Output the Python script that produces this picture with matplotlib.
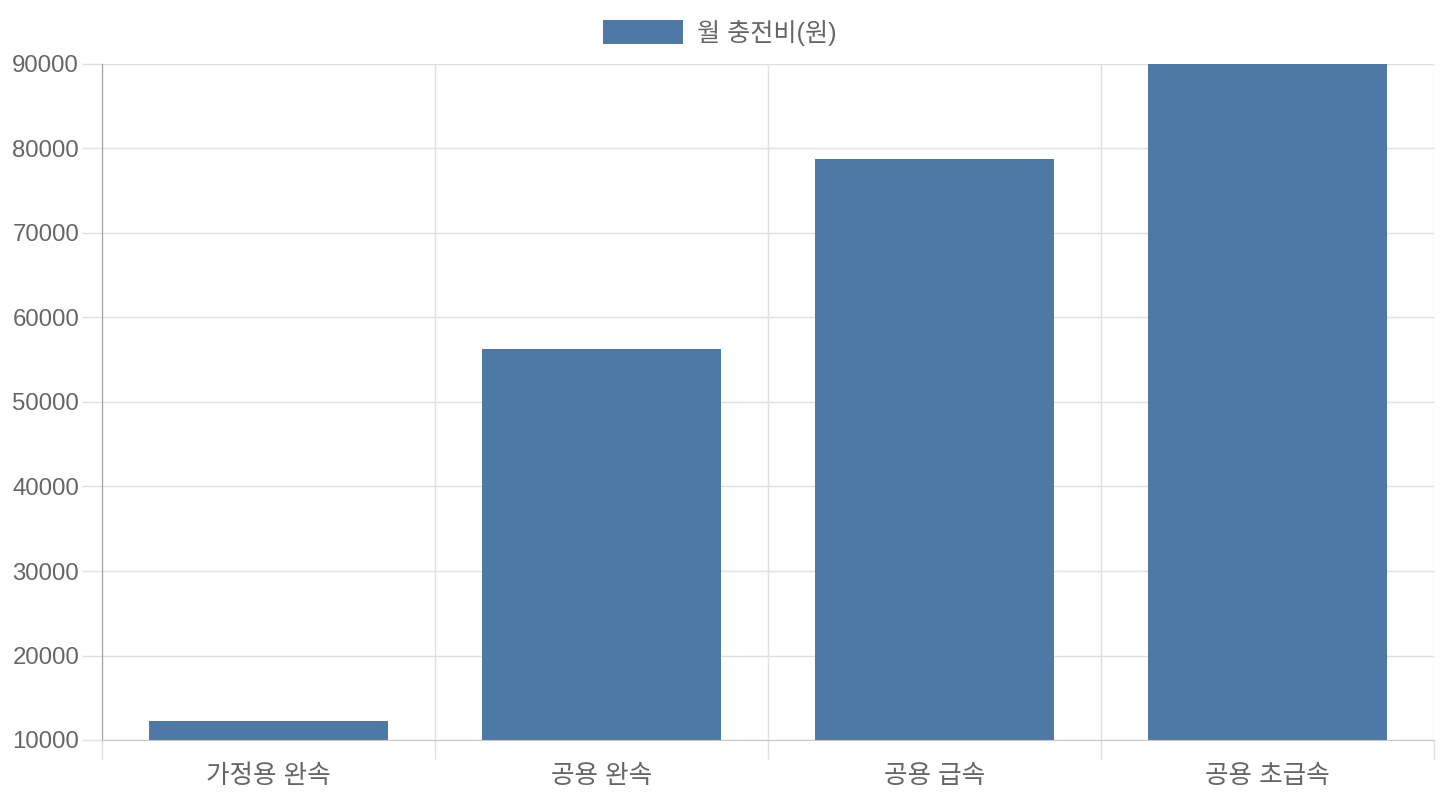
import matplotlib
matplotlib.use("Agg")
import matplotlib.pyplot as plt
from matplotlib.patches import Rectangle
import numpy as np

plt.rcParams['font.family'] = ['Liberation Sans', 'Noto Sans CJK KR', 'DejaVu Sans']

categories = ["가정용 완속", "공용 완속", "공용 급속", "공용 초급속"]
values = [12200, 56300, 78800, 101000]
series_name = "월 충전비(원)"
y_ticks = [10000, 20000, 30000, 40000, 50000, 60000, 70000, 80000, 90000]

W, H = 1440, 800
fig = plt.figure(figsize=(W / 100, H / 100), dpi=100)
L, R, T, B = 102, 1434, 64, 740
ax = fig.add_axes([L / W, 1 - B / H, (R - L) / W, (B - T) / H])

color = "#4e79a7"
x = np.arange(len(categories))
ax.bar(x, values, width=0.72, color=color, zorder=3)
ax.set_xlim(-0.5, len(categories) - 0.5)
ax.set_ylim(10000, 90000)

ax.set_yticks(y_ticks)
ax.set_yticklabels([str(v) for v in y_ticks])
ax.set_xticks(x)
ax.set_xticklabels(categories)
ax.set_xticks(np.arange(-0.5, len(categories)), minor=True)

txt_color = "#666666"
grid_color = "#e0e0e0"
ax.tick_params(axis='y', length=20 * 0.72, width=1, color=grid_color, labelsize=24 * 0.72,
               labelcolor=txt_color, pad=2)
ax.tick_params(axis='x', which='major', length=0, labelsize=25.6 * 0.72, labelcolor=txt_color, pad=17)
ax.tick_params(axis='x', which='minor', length=19 * 0.72, width=1, color=grid_color)

ax.grid(axis='y', color=grid_color, linewidth=1, zorder=0)
ax.grid(axis='x', which='minor', color=grid_color, linewidth=1, zorder=0)
ax.grid(axis='x', which='major', visible=False)

for s in ['top', 'right']:
    ax.spines[s].set_visible(False)
ax.spines['left'].set_color("#9e9e9e")
ax.spines['left'].set_zorder(4)
ax.spines['bottom'].set_color("#c8c8c8")
ax.spines['bottom'].set_zorder(4)

# legend
fig.patches.append(Rectangle((603 / W, 1 - 44 / H), 80 / W, 24 / H, transform=fig.transFigure,
                             facecolor=color, edgecolor='none'))
fig.text(697 / W, 1 - 33 / H, series_name, fontsize=25.2 * 0.72, color=txt_color,
         ha='left', va='center')

fig.savefig("out.png", dpi=100, facecolor='white')
